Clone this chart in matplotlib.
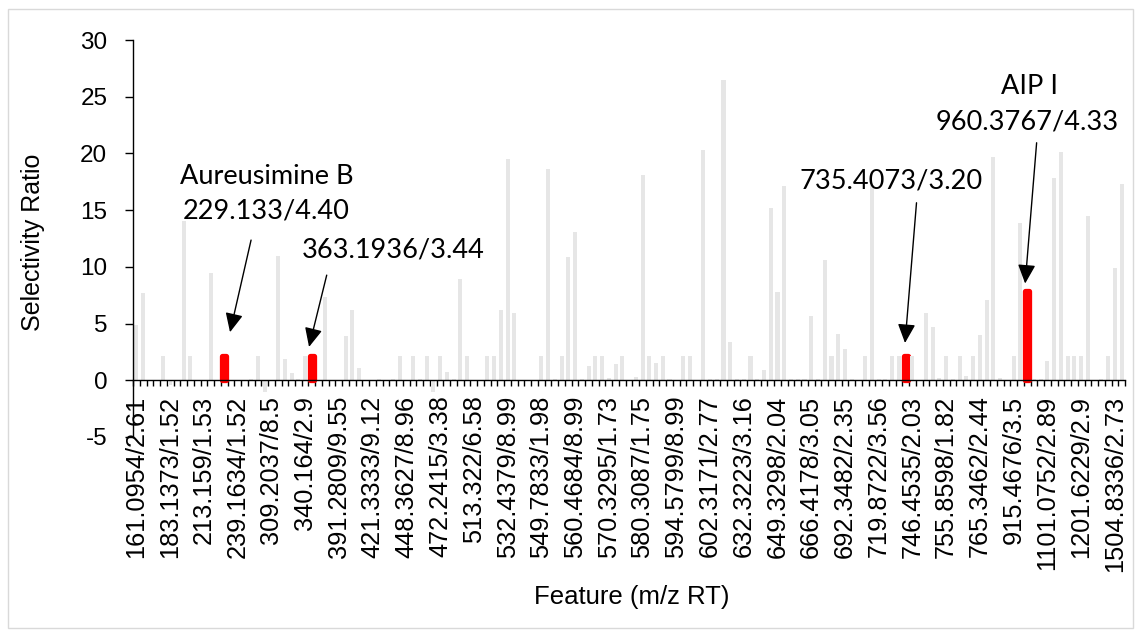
import matplotlib.pyplot as plt
from matplotlib.patches import Rectangle
import numpy as np

plt.rcParams["axes.unicode_minus"] = False

# selectivity ratio per feature (147 features)
values = [
    4.9, 7.7, 0, 0, 2.1, -0.4, 0, 14.0, 2.1, 0,
    0, 9.5, 0, 2.1, 0, 0, 0, 0.1, 2.1, -1.0,
    0, 11.0, 1.9, 0.6, 0.1, 2.1, 2.1, 0, 7.3, 0,
    0, 3.9, 6.2, 1.1, 0, 0, 0.1, 0, 0.1, 2.1,
    0, 2.1, 0.1, 2.1, -1.0, 2.1, 0.7, 0.1, 8.9, 2.1,
    0, 0, 2.1, 2.1, 6.2, 19.5, 5.9, 0, 0, -0.1,
    2.1, 18.6, 0.1, 2.1, 10.9, 13.1, 0.1, 1.3, 2.1, 2.1,
    0.2, 1.4, 2.1, 0, 0.3, 18.1, 2.1, 1.5, 2.1, 0.1,
    0, 2.1, 2.1, 0, 20.3, 0.1, 0.1, 26.5, 3.4, 0.1,
    0.1, 2.1, 0.1, 0.9, 15.2, 7.8, 17.1, 0.1, 0.1, 0.1,
    5.7, 0.1, 10.6, 2.1, 4.1, 2.8, 0.1, 0, 2.1, 17.2,
    0.1, 0.1, 2.1, 2.1, 2.1, 2.1, 0, 5.9, 4.7, 0.2,
    2.1, 0.1, 2.1, 0.35, 2.1, 4.0, 7.1, 19.7, 0.2, 0,
    2.1, 13.9, 7.9, 0.1, 0.1, 1.7, 17.8, 20.1, 2.1, 2.1,
    2.1, 14.5, 0, 0.1, 2.1, 9.9, 17.3,
]

# every 5th feature is labelled on the axis
tick_labels = [
    "161.0954/2.61", "183.1373/1.52", "213.159/1.53", "239.1634/1.52",
    "309.2037/8.5", "340.164/2.9", "391.2809/9.55", "421.3333/9.12",
    "448.3627/8.96", "472.2415/3.38", "513.322/6.58", "532.4379/8.99",
    "549.7833/1.98", "560.4684/8.99", "570.3295/1.73", "580.3087/1.75",
    "594.5799/8.99", "602.3171/2.77", "632.3223/3.16", "649.3298/2.04",
    "666.4178/3.05", "692.3482/2.35", "719.8722/3.56", "746.4535/2.03",
    "755.8598/1.82", "765.3462/2.44", "915.4676/3.5", "1101.0752/2.89",
    "1201.6229/2.9", "1504.8336/2.73",
]

highlight_idx = [13, 26, 114, 132]

GRAY = "#e6e6e6"
RED = "#ff0000"

fig = plt.figure(figsize=(11.41, 6.37), dpi=100)
ax = fig.add_axes([0.1166, 0.314, 0.8694, 0.6232])

x = np.arange(len(values))
cols = [RED if i in highlight_idx else GRAY for i in x]
lws = [3.8 if i in highlight_idx else 0 for i in x]
ax.bar(x, values, width=0.6, color=cols, edgecolor=cols, linewidth=lws,
       joinstyle="round", zorder=2)

ax.set_xlim(-0.5, len(values) - 0.5)
ax.set_ylim(-5, 30)

for s in ["top", "right"]:
    ax.spines[s].set_visible(False)
ax.spines["bottom"].set_position(("data", 0))
ax.spines["bottom"].set_zorder(4)
ax.spines["left"].set_linewidth(1.0)
ax.spines["bottom"].set_linewidth(1.0)

ax.set_xticks(x[::5])
ax.set_xticklabels(tick_labels, rotation=90, fontsize=18.3,
                   family="Liberation Sans")
ax.tick_params(axis="x", which="major", length=0, pad=11)
ax.set_xticks(np.arange(-0.5, len(values), 1), minor=True)
ax.tick_params(axis="x", which="minor", length=4, width=1, direction="out")

ax.set_yticks(range(-5, 31, 5))
ax.tick_params(axis="y", length=5.5, width=1, labelsize=17.5, pad=13)
for t in ax.get_yticklabels():
    t.set_family("Liberation Sans")

fig.text(632 / 1141, 1 - 597 / 637, "Feature (m/z RT)", ha="center",
         va="center", fontsize=18.5, family="Liberation Sans")
fig.text(33 / 1141, 1 - 242 / 637, "Selectivity Ratio", ha="center",
         va="center", rotation=90, fontsize=18, family="Liberation Sans")

# annotations: text lines (x, baseline y) and arrows (tip, start)
ann_font = dict(fontsize=19.5, family="Lato", va="baseline")
ax.text(6.47, 17.3, "Aureusimine B", ha="left", **ann_font)
ax.text(6.9, 14.3, "229.133/4.40", ha="left", **ann_font)
ax.text(38.0, 10.86, "363.1936/3.44", ha="center", **ann_font)
ax.text(111.9, 16.95, "735.4073/3.20", ha="center", **ann_font)
ax.text(132.3, 25.24, "AIP I", ha="center", **ann_font)
ax.text(132.0, 22.07, "960.3767/4.33", ha="center", **ann_font)

arrows = [
    ((13.87, 4.24), (16.99, 12.36)),
    ((25.58, 2.94), (28.2, 9.27)),
    ((113.9, 3.29), (115.6, 15.65)),
    ((131.7, 8.53), (133.4, 20.94)),
]
for tip, start in arrows:
    ax.annotate("", xy=tip, xytext=start,
                arrowprops=dict(arrowstyle="-|>,head_length=0.58,head_width=0.27",
                                color="black", lw=1, mutation_scale=20,
                                shrinkA=0, shrinkB=0), zorder=5)

fig.patches.append(Rectangle((8 / 1141, 9 / 637), 1125 / 1141, 619 / 637,
                             transform=fig.transFigure, fill=False,
                             edgecolor="#d9d9d9", lw=1))

fig.savefig("out.png", dpi=100)
